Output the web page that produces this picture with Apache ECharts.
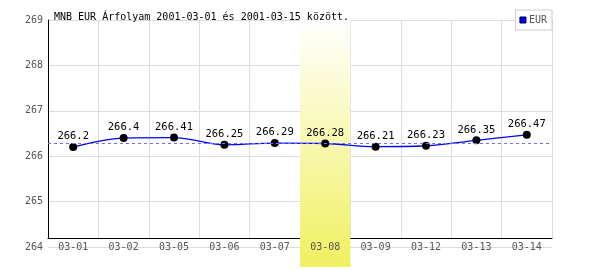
<!DOCTYPE html>
<html><head><meta charset="utf-8">
<script src="https://cdn.jsdelivr.net/npm/echarts@6/dist/echarts.min.js"></script>
<style>html,body{margin:0;padding:0;background:#fff}#c{width:600px;height:270px}</style>
</head><body><div id="c"></div>
<script>
var titleText = 'MNB EUR Árfolyam 2001-03-01 és 2001-03-15 között.';
var categories = ['03-01','03-02','03-05','03-06','03-07','03-08','03-09','03-12','03-13','03-14'];
var eurValues = [266.2, 266.4, 266.41, 266.25, 266.29, 266.28, 266.21, 266.23, 266.35, 266.47];
var highlightCategory = '03-08';
var yMin = 264, yMax = 269, yStep = 1;

var mono = 'DejaVu Sans Mono';
var bandData = categories.map(function(c){ return c === highlightCategory ? 1 : '-'; });
var refLineStyle = { color: '#6f6fff', type: [3, 3], width: 1, opacity: 1 };

var chart = echarts.init(document.getElementById('c'), null, {renderer:'canvas'});
chart.setOption({
  animation: false,
  title: { text: titleText, left: 49, top: 7, textStyle: { fontFamily: mono, fontSize: 10, fontWeight: 'normal', color: '#000' } },
  legend: {
    data: [{ name: 'EUR', icon: 'rect', itemStyle: { color: '#0000ff', borderColor: '#000044', borderWidth: 1 } }],
    right: 48, top: 10, itemWidth: 6, itemHeight: 6, itemGap: 3,
    borderColor: '#cccccc', borderWidth: 1, padding: [5, 5, 5, 4], backgroundColor: '#fff',
    textStyle: { fontFamily: mono, fontSize: 10, color: '#555', padding: [0,0,0,-2] }
  },
  grid: [
    { left: 48, right: 48, top: 20, bottom: 23 },
    { left: 48, right: 48, top: 20, bottom: 32 },
    { left: 48, right: 48, top: 20, bottom: 3 }
  ],
  xAxis: [
    { gridIndex: 0, type: 'category', data: categories, boundaryGap: true, z: 2,
      axisLine: { show: false }, axisTick: { show: false }, splitLine: { show: false },
      axisLabel: { interval: 0, margin: 0, verticalAlign: 'middle', fontFamily: mono, fontSize: 10, color: '#555' } },
    { gridIndex: 1, type: 'category', data: categories, boundaryGap: true, z: 0,
      axisLine: { show: true, lineStyle: { color: '#000', width: 1 } }, axisTick: { show: false }, axisLabel: { show: false },
      splitLine: { show: true, interval: 0, lineStyle: { color: '#dddddd', width: 1 } } },
    { gridIndex: 2, type: 'category', data: categories, boundaryGap: true, show: false }
  ],
  yAxis: [
    { gridIndex: 0, type: 'value', min: yMin, max: yMax, interval: yStep, z: 0,
      axisLine: { show: false }, axisTick: { show: false },
      axisLabel: { margin: 5, fontFamily: mono, fontSize: 10, color: '#555' },
      splitLine: { show: true, lineStyle: { color: '#dddddd', width: 1 } } },
    { gridIndex: 1, type: 'value', min: 0, max: 1, z: 0,
      axisLine: { show: true, lineStyle: { color: '#000', width: 1 } }, axisTick: { show: false }, axisLabel: { show: false },
      splitLine: { show: false } },
    { gridIndex: 2, type: 'value', min: 0, max: 1, show: false }
  ],
  series: [
    { type: 'bar', xAxisIndex: 2, yAxisIndex: 2, data: bandData, barWidth: '100%', z: 1, silent: true,
      itemStyle: { color: new echarts.graphic.LinearGradient(0, 0, 0, 1, [
        { offset: 0, color: '#ffffff' }, { offset: 1, color: '#f0f060' } ]) } },
    { name: 'EUR', type: 'line', xAxisIndex: 0, yAxisIndex: 0, data: eurValues, z: 3,
      smooth: 0.35, symbol: 'circle', symbolSize: 8,
      lineStyle: { color: '#0000ff', width: 1.3 },
      itemStyle: { color: '#000' },
      label: { show: true, position: 'top', distance: 1, fontFamily: mono, fontSize: 10.5, color: '#000' },
      markLine: { silent: true, symbol: 'none', label: { show: false },
        lineStyle: refLineStyle,
        emphasis: { disabled: true },
        data: [{ type: 'median', lineStyle: refLineStyle }] } }
  ]
});
</script></body></html>
